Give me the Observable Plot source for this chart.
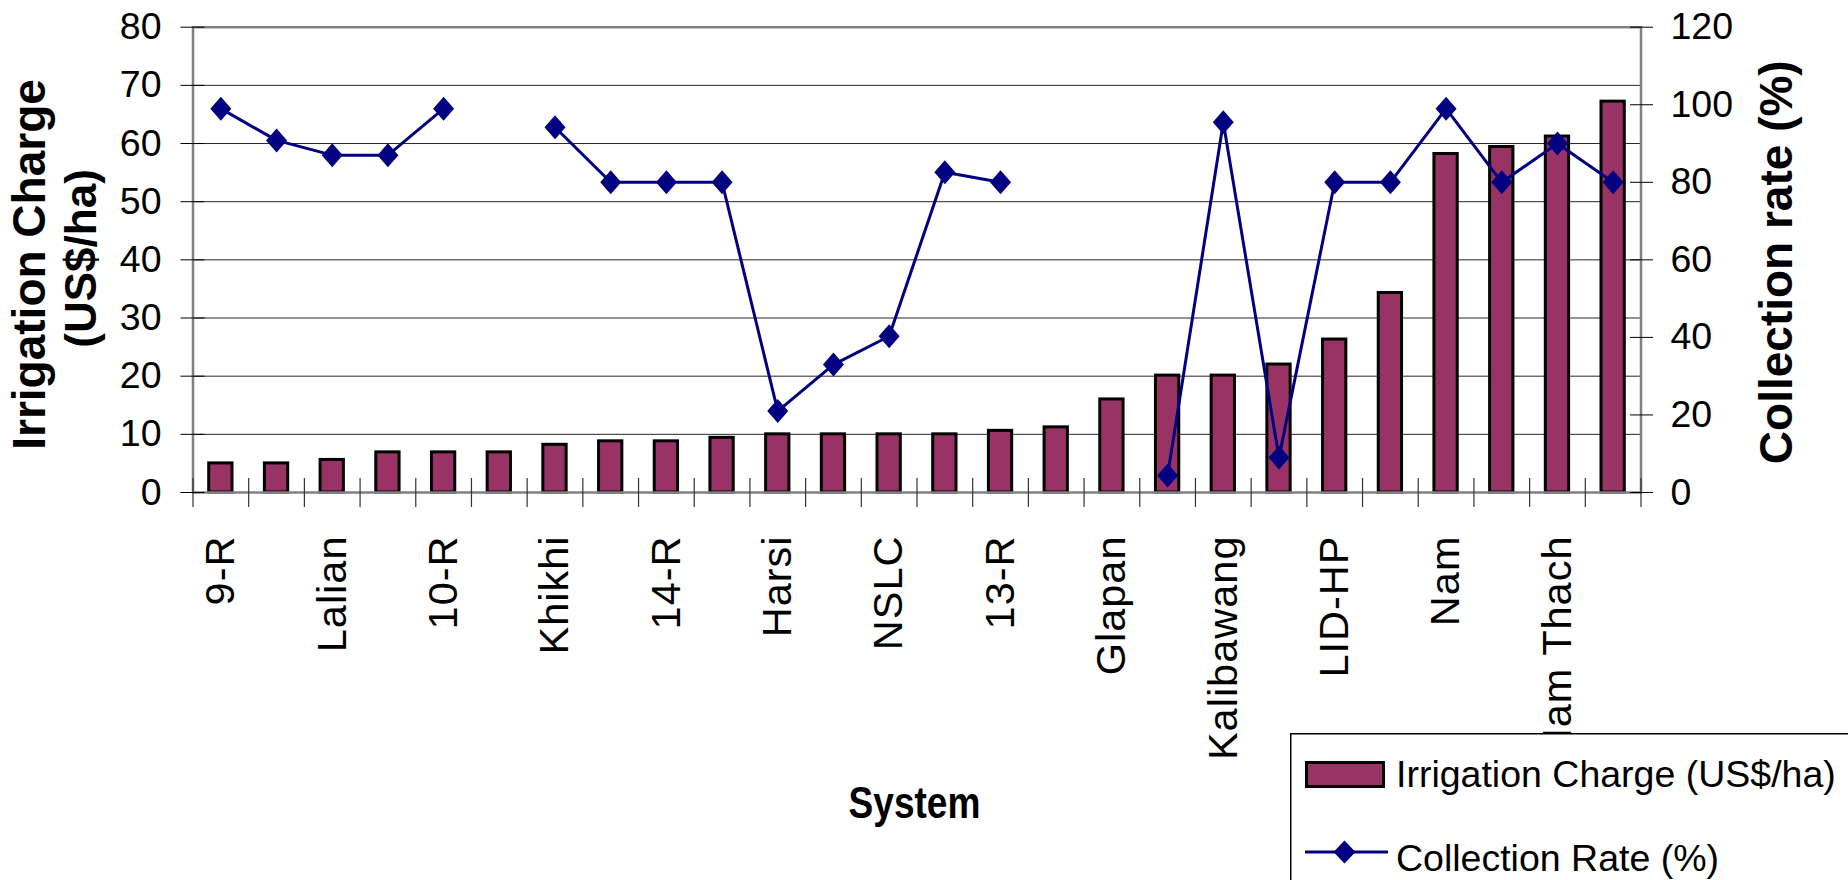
<!DOCTYPE html>
<html>
<head>
<meta charset="utf-8">
<script src="https://cdn.jsdelivr.net/npm/d3@7"></script>
<script src="https://cdn.jsdelivr.net/npm/@observablehq/plot@0.6"></script>
<style>
  html, body { margin: 0; padding: 0; overflow: hidden; background: #fff; }
  #wrap { position: relative; width: 1848px; height: 880px; }
  #legend { position: absolute; left: 1290px; top: 733px; }
</style>
</head>
<body>
<div id="wrap"></div>
<script>
// ---- data ----
const systems = ["9-R", null, "Lalian", null, "10-R", null, "Khikhi", null, "14-R", null,
  "Harsi", null, "NSLC", null, "13-R", null, "Glapan", null, "Kalibawang", null,
  "LID-HP", null, "Nam", null, "Nam Thach", null];
const charges = [5.0, 5.0, 5.6, 6.9, 6.9, 6.9, 8.2, 8.8, 8.8, 9.4,
  10.0, 10.0, 10.0, 10.0, 10.6, 11.2, 16.0, 20.1, 20.1, 22.0,
  26.3, 34.3, 58.2, 59.4, 61.2, 67.2];
const rates = [99, 90.8, 87, 87, 99, null, 94.2, 80, 80, 80,
  21, 33, 40.3, 82.6, 80, null, null, 4.4, 95.5, 9,
  80, 80, 99, 80, 90, 80];
const leftTicks = [0, 10, 20, 30, 40, 50, 60, 70, 80];
const rightTicks = [0, 20, 40, 60, 80, 100, 120];
const leftLabel = ["Irrigation Charge", "(US$/ha)"];
const rightLabel = "Collection rate (%)";
const xLabel = "System";
const legendLabels = ["Irrigation Charge (US$/ha)", "Collection Rate (%)"];

// ---- layout / style ----
const W = 1848, H = 880;
const mL = 192.5, mR = 207.5, mT = 26.7, mB = 388;
const n = systems.length;
const step = (W - mL - mR) / n;
const barColor = "#993366", lineColor = "#000080";
const font = "'Liberation Sans', Arial, Helvetica, sans-serif";
const toLeft = v => v * 80 / 120;
const data = systems.map((s, i) => ({i, system: s, charge: charges[i], rate: rates[i]}));

const diamond = {
  draw(ctx) {
    const w = 10.5, h = 12;
    ctx.moveTo(0, -h); ctx.lineTo(w, 0); ctx.lineTo(0, h); ctx.lineTo(-w, 0); ctx.closePath();
  }
};

const chart = Plot.plot({
  width: W, height: H,
  marginTop: mT, marginBottom: mB, marginLeft: mL, marginRight: mR,
  x: {type: "band", domain: d3.range(n), padding: 0, round: false, axis: null},
  y: {domain: [0, 80], axis: null},
  style: {fontFamily: font, background: "#fff", color: "#000", overflow: "visible"},
  marks: [
    Plot.gridY(leftTicks.filter(v => v > 0 && v < 80), {stroke: "#000", strokeOpacity: 0.85, strokeWidth: 1}),
    Plot.barY(data, {x: "i", y: "charge", fill: barColor, stroke: "#000", strokeWidth: 3, insetLeft: 16.2, insetRight: 16.2}),
    Plot.frame({stroke: "#808080", strokeWidth: 2.5}),
    Plot.ruleX(d3.range(n), {x: d => d, dx: -step / 2, y1: 0, y2: 0, insetTop: -14, insetBottom: -15, stroke: "#333", strokeWidth: 1.2}),
    Plot.ruleX([n - 1], {x: d => d, dx: step / 2, y1: 0, y2: 0, insetTop: -14, insetBottom: -15, stroke: "#333", strokeWidth: 1.2}),
    Plot.line(data, {x: "i", y: d => d.rate == null ? NaN : toLeft(d.rate), stroke: lineColor, strokeWidth: 3}),
    Plot.dot(data.filter(d => d.rate != null), {x: "i", y: d => toLeft(d.rate), symbol: diamond, fill: lineColor, stroke: "none"}),
    Plot.axisY(leftTicks, {anchor: "left", tickSize: 24, dx: 12, tickPadding: 19.5, fontSize: 37.5, label: null, stroke: "#000", fill: "#000"}),
    Plot.axisY(rightTicks.map(toLeft), {anchor: "right", tickSize: 23, dx: -11.5, tickPadding: 18, fontSize: 37.5, label: null,
      tickFormat: v => String(Math.round(v * 120 / 80)), stroke: "#000", fill: "#000"}),
    Plot.text(data.filter(d => d.system), {x: "i", text: "system", frameAnchor: "bottom", dy: 43, rotate: -90,
      textAnchor: "end", lineAnchor: "middle", fontSize: 41.5, fill: "#000"}),
    Plot.text([leftLabel[0]], {text: d => d, frameAnchor: "left", dx: -162.5, dy: 4.6, rotate: -90, textAnchor: "middle", lineAnchor: "middle",
      fontSize: 46, fontWeight: "bold", fill: "#000"}),
    Plot.text([leftLabel[1]], {text: d => d, frameAnchor: "left", dx: -111.5, dy: -1.4, rotate: -90, textAnchor: "middle", lineAnchor: "middle",
      fontSize: 44, fontWeight: "bold", fill: "#000"}),
    Plot.text([rightLabel], {text: d => d, frameAnchor: "right", dx: 136, dy: 2.4, rotate: -90, textAnchor: "middle", lineAnchor: "middle",
      fontSize: 46, fontWeight: "bold", fill: "#000"}),
    Plot.text([xLabel], {text: d => d, frameAnchor: "bottom", dx: -2.5, dy: 311, textAnchor: "middle", lineAnchor: "middle",
      fontSize: 44, fontWeight: "bold", fill: "#000"})
  ]
});

const svg = d3.select(chart);
// condense the "System" label like the original
svg.selectAll("text").filter(function() { return this.textContent === xLabel; })
  .attr("textLength", 132).attr("lengthAdjust", "spacingAndGlyphs");
// slightly spaced category labels, as in the original
svg.selectAll("text").filter(function() { return systems.includes(this.textContent); })
  .style("letter-spacing", "1px");

const wrap = document.getElementById("wrap");
wrap.appendChild(chart);

// ---- legend (overlay, bottom right) ----
const lg = d3.select(wrap).append("svg").attr("id", "legend")
  .attr("width", W - 1290).attr("height", H - 733)
  .style("font-family", font);
lg.append("rect").attr("x", 0).attr("y", 0).attr("width", W - 1290).attr("height", H - 733).attr("fill", "#fff");
lg.append("line").attr("x1", 0.75).attr("x2", 0.75).attr("y1", 0).attr("y2", H - 733).attr("stroke", "#000").attr("stroke-width", 1.5);
lg.append("line").attr("x1", 0).attr("x2", W - 1290).attr("y1", 0.75).attr("y2", 0.75).attr("stroke", "#000").attr("stroke-width", 1.5);
lg.append("rect").attr("x", 16.5).attr("y", 29.5).attr("width", 77).attr("height", 24)
  .attr("fill", barColor).attr("stroke", "#000").attr("stroke-width", 3);
lg.append("text").attr("x", 106).attr("y", 54).attr("font-size", 37.5).text(legendLabels[0]);
lg.append("line").attr("x1", 15).attr("x2", 98).attr("y1", 119).attr("y2", 119).attr("stroke", lineColor).attr("stroke-width", 3);
lg.append("path").attr("d", "M54.5,107.5L65.5,119L54.5,130.5L43.5,119Z").attr("fill", lineColor);
lg.append("text").attr("x", 106).attr("y", 138).attr("font-size", 37.5).text(legendLabels[1]);
</script>
</body>
</html>
